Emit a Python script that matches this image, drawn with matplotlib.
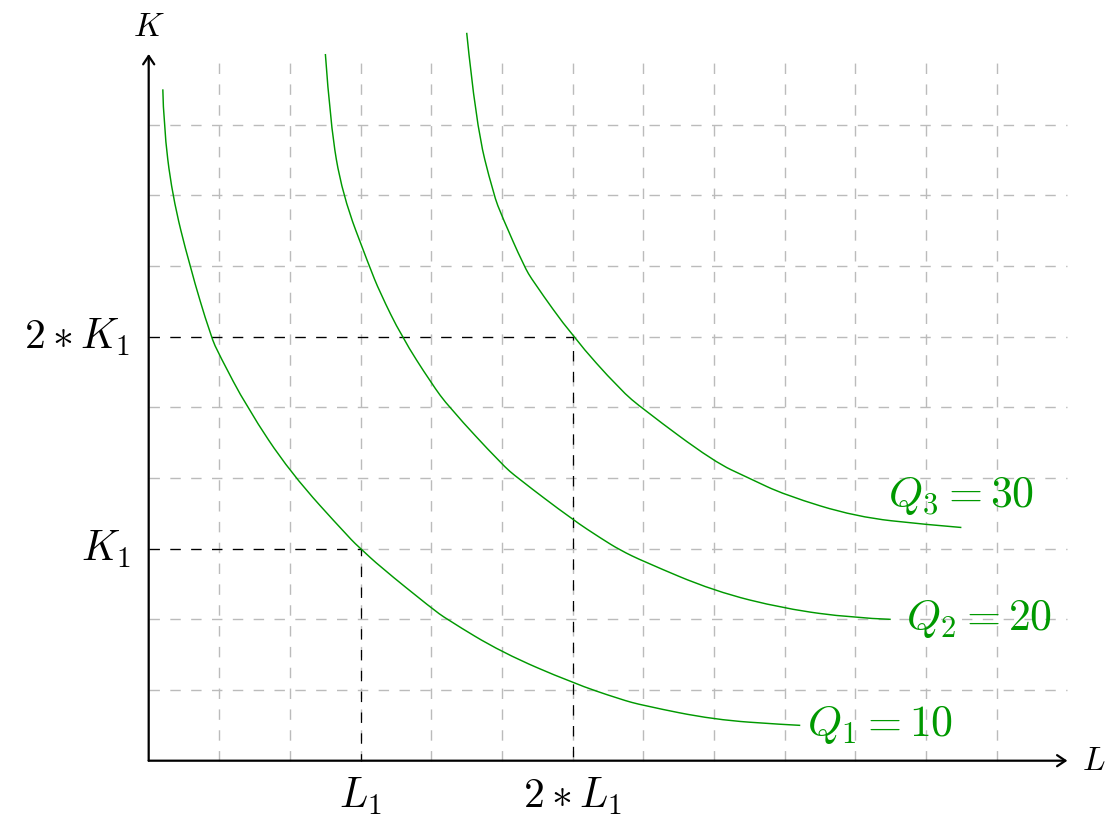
import matplotlib
matplotlib.use("Agg")
import matplotlib.pyplot as plt
from matplotlib.path import Path
from matplotlib.patches import PathPatch

plt.rcParams['mathtext.fontset'] = 'cm'
plt.rcParams['lines.scale_dashes'] = False

# isoquants (L, K)
q1_L = [0.20, 0.21, 0.33, 0.58, 0.88, 1.00, 1.39, 2.00, 2.85, 3.00, 3.27, 4.00, 4.22, 5.00, 6.00, 6.67, 7.00, 8.00, 9.00, 9.22]
q1_K = [9.50, 9.01, 8.01, 7.00, 6.00, 5.74, 5.00, 4.08, 3.14, 3.00, 2.75, 2.16, 2.00, 1.53, 1.10, 0.87, 0.78, 0.58, 0.51, 0.50]

q2_L = [2.50, 2.57, 2.74, 3.12, 3.27, 3.58, 4.00, 4.25, 5.00, 5.22, 6.00, 6.41, 6.67, 7.00, 8.00, 9.00, 9.97, 10.50]
q2_K = [10.00, 9.01, 8.01, 7.00, 6.63, 6.00, 5.34, 5.00, 4.19, 4.00, 3.41, 3.14, 2.98, 2.82, 2.40, 2.15, 2.02, 2.00]

q3_L = [4.50, 4.63, 4.88, 5.00, 5.31, 5.44, 6.00, 6.67, 7.00, 8.00, 8.49, 9.00, 10.01, 11.01, 11.50]
q3_K = [10.30, 9.01, 8.01, 7.70, 7.00, 6.78, 6.00, 5.25, 4.97, 4.23, 4.00, 3.76, 3.45, 3.34, 3.30]

q_labels = ['$Q_1 = 10$', '$Q_2 = 20$', '$Q_3 = 30$']

L1 = 3
K1 = 3
L_max = 13
K_max = 10

green = '#009900'
dash = (0, (7.5, 7.5))


def smooth_path(xs, ys):
    # quadratic b-spline through the read points, drawn by matplotlib's Path
    pts = list(zip(xs, ys))
    verts = [pts[0]]
    codes = [Path.MOVETO]
    for i in range(1, len(pts) - 2):
        mid = ((pts[i][0] + pts[i + 1][0]) / 2, (pts[i][1] + pts[i + 1][1]) / 2)
        verts += [pts[i], mid]
        codes += [Path.CURVE3, Path.CURVE3]
    verts += [pts[-2], pts[-1]]
    codes += [Path.CURVE3, Path.CURVE3]
    return Path(verts, codes)


fig = plt.figure(figsize=(11.18, 8.16), dpi=100)
ax = fig.add_axes([0, 0, 1, 1])
ax.set_xlim(-2.104, 13.716)
ax.set_ylim(-0.7825, 10.764)
ax.axis('off')

# grid
ax.vlines(range(1, L_max), 0, K_max, colors='#bbbbbb', lw=1.0, linestyles=dash, zorder=1)
ax.hlines(range(1, K_max), 0, L_max, colors='#bbbbbb', lw=1.0, linestyles=dash, zorder=1)

# guide lines
ax.plot([0, L1, L1], [K1, K1, 0], color='black', lw=0.9, ls=dash, zorder=2)
ax.plot([0, 2 * L1, 2 * L1], [2 * K1, 2 * K1, 0], color='black', lw=0.9, ls=dash, zorder=2)

# isoquants
for xs, ys in [(q1_L, q1_K), (q2_L, q2_K), (q3_L, q3_K)]:
    ax.add_patch(PathPatch(smooth_path(xs, ys), facecolor='none', edgecolor=green, lw=1.05, zorder=3))

ax.annotate(q_labels[0], xy=(q1_L[-1], q1_K[-1]), xytext=(5, -8), textcoords='offset points',
            ha='left', va='baseline', color=green, fontsize=31.5)
ax.annotate(q_labels[1], xy=(q2_L[-1], q2_K[-1]), xytext=(11, -8), textcoords='offset points',
            ha='left', va='baseline', color=green, fontsize=31.5)
ax.annotate(q_labels[2], xy=(q3_L[-1], q3_K[-1]), xytext=(0, 15), textcoords='offset points',
            ha='center', va='baseline', color=green, fontsize=31.5)

# axes with arrows
arrow = dict(arrowstyle='->,head_length=0.6,head_width=0.4', lw=1.6, color='black', shrinkA=0, shrinkB=0)
ax.annotate('', xy=(L_max, 0), xytext=(0, 0), arrowprops=arrow, zorder=4)
ax.annotate('', xy=(0, K_max), xytext=(0, 0), arrowprops=arrow, zorder=4)
ax.text(L_max + 0.2, 0, '$L$', ha='left', va='center', fontsize=24)
ax.text(0, K_max + 0.15, '$K$', ha='center', va='bottom', fontsize=24)

# tick labels
ax.text(-0.26, K1, '$K_1$', ha='right', va='center', fontsize=30)
ax.text(-0.26, 2 * K1, r'$2 \ast K_1$', ha='right', va='center', fontsize=30)
ax.text(L1, -0.2, '$L_1$', ha='center', va='top', fontsize=30)
ax.text(2 * L1, -0.2, r'$2 \ast L_1$', ha='center', va='top', fontsize=30)

fig.savefig('out.png', dpi=100)
